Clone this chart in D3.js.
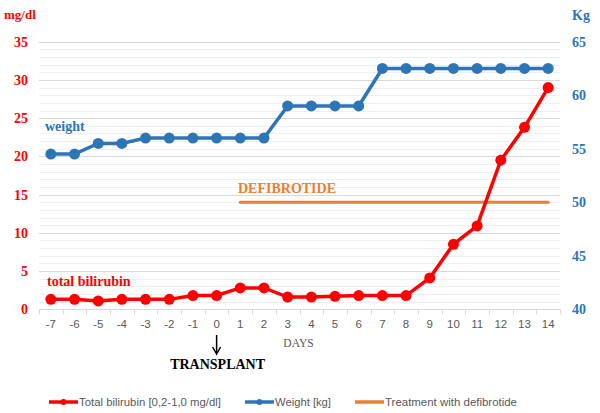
<!DOCTYPE html>
<html><head><meta charset="utf-8">
<script src="https://cdn.jsdelivr.net/npm/d3@7"></script>
<style>body{margin:0;background:#fff}svg{display:block}</style>
</head><body>
<svg id="c" width="600" height="413"></svg>
<script>
const days = [-7,-6,-5,-4,-3,-2,-1,0,1,2,3,4,5,6,7,8,9,10,11,12,13,14];
const bilirubin = [1.3,1.3,1.1,1.3,1.3,1.3,1.8,1.8,2.8,2.8,1.6,1.6,1.7,1.8,1.8,1.8,4.1,8.5,10.9,19.5,23.8,29.0];
const weight = [54.5,54.5,55.5,55.5,56,56,56,56,56,56,59,59,59,59,62.5,62.5,62.5,62.5,62.5,62.5,62.5,62.5];
const defibDays = [1,14];
const defibLevel = 14;
const leftTicks = [0,5,10,15,20,25,30,35];
const rightTicks = [40,45,50,55,60,65];
const legendLabels = ["Total bilirubin [0,2-1,0 mg/dl]","Weight [kg]","Treatment with defibrotide"];

const RED="#ff0000", BLUE="#2e75b6", ORANGE="#ed7d31";
const svg=d3.select("#c");
const L=39,R=560,T=41.7,B=309.3;
const x=d3.scaleBand().domain(days).range([L,R]);
const yL=d3.scaleLinear().domain([0,35]).range([B,T]);
const yR=d3.scaleLinear().domain([40,65]).range([B,T]);
const cx=d=>x(d)+x.bandwidth()/2;

// minor gridlines
svg.append("g").selectAll("line").data(d3.range(1,36).filter(v=>v%5!==0)).join("line")
 .attr("x1",L).attr("x2",R).attr("y1",d=>Math.round(yL(d))+0.5).attr("y2",d=>Math.round(yL(d))+0.5)
 .attr("stroke","#efefef").attr("stroke-width",1);
svg.append("g").selectAll("line").data(leftTicks.slice(1)).join("line")
 .attr("x1",L).attr("x2",R).attr("y1",d=>Math.round(yL(d))+0.5).attr("y2",d=>Math.round(yL(d))+0.5)
 .attr("stroke","#d9d9d9").attr("stroke-width",1);
// x axis
svg.append("line").attr("x1",L).attr("x2",R).attr("y1",Math.round(B)+0.5).attr("y2",Math.round(B)+0.5).attr("stroke","#d9d9d9");
svg.append("g").selectAll("line").data(days.concat([15])).join("line")
 .attr("x1",d=>Math.round(d===15?R:x(d))+0.5).attr("x2",d=>Math.round(d===15?R:x(d))+0.5)
 .attr("y1",B).attr("y2",B+5).attr("stroke","#d9d9d9");
svg.append("g").selectAll("text").data(days).join("text")
 .attr("x",d=>cx(d)).attr("y",328).attr("text-anchor","middle")
 .attr("font-family","Liberation Sans, Arial, sans-serif").attr("font-size",11.5).attr("fill","#595959")
 .text(d=>d);

// axis labels
svg.append("g").selectAll("text").data(leftTicks).join("text")
 .attr("x",28).attr("y",d=>yL(d)+5).attr("text-anchor","end")
 .attr("font-family","Liberation Serif, Times New Roman, serif").attr("font-weight","bold").attr("font-size",14).attr("fill",RED)
 .text(d=>d);
svg.append("g").selectAll("text").data(rightTicks).join("text")
 .attr("x",572).attr("y",d=>yR(d)+5).attr("text-anchor","start")
 .attr("font-family","Liberation Serif, Times New Roman, serif").attr("font-weight","bold").attr("font-size",14).attr("fill",BLUE)
 .text(d=>d);
svg.append("text").attr("x",4).attr("y",19).attr("font-family","Liberation Serif, serif").attr("font-weight","bold").attr("font-size",13).attr("fill",RED).text("mg/dl");
svg.append("text").attr("x",572).attr("y",20).attr("font-family","Liberation Serif, serif").attr("font-weight","bold").attr("font-size",14).attr("fill",BLUE).text("Kg");

// defibrotide line
svg.append("line").attr("x1",cx(defibDays[0])).attr("x2",cx(defibDays[1]))
 .attr("y1",yL(defibLevel)).attr("y2",yL(defibLevel)).attr("stroke",ORANGE).attr("stroke-width",3).attr("stroke-linecap","round");
svg.append("text").attr("x",238).attr("y",193).attr("font-family","Liberation Serif, serif").attr("font-weight","bold").attr("font-size",14).attr("fill",ORANGE).text("DEFIBROTIDE");

// weight
const wl=d3.line().x((d,i)=>cx(days[i])).y(d=>yR(d));
svg.append("path").datum(weight).attr("d",wl).attr("fill","none").attr("stroke",BLUE).attr("stroke-width",3.5);
svg.append("g").selectAll("circle").data(weight).join("circle").attr("cx",(d,i)=>cx(days[i])).attr("cy",d=>yR(d)).attr("r",5.5).attr("fill",BLUE);
svg.append("text").attr("x",45).attr("y",131).attr("font-family","Liberation Serif, serif").attr("font-weight","bold").attr("font-size",14).attr("fill",BLUE).text("weight");

// bilirubin
const bl=d3.line().x((d,i)=>cx(days[i])).y(d=>yL(d));
svg.append("path").datum(bilirubin).attr("d",bl).attr("fill","none").attr("stroke",RED).attr("stroke-width",3.5);
svg.append("g").selectAll("circle").data(bilirubin).join("circle").attr("cx",(d,i)=>cx(days[i])).attr("cy",d=>yL(d)).attr("r",5.5).attr("fill",RED);
svg.append("text").attr("x",47).attr("y",286).attr("font-family","Liberation Serif, serif").attr("font-weight","bold").attr("font-size",14).attr("fill",RED).text("total bilirubin");

// DAYS
svg.append("text").attr("x",298.5).attr("y",347).attr("text-anchor","middle").attr("font-family","Liberation Serif, serif").attr("font-size",11.5).attr("fill","#595959").text("DAYS");
// arrow + transplant
const ax=cx(0);
svg.append("line").attr("x1",ax).attr("x2",ax).attr("y1",335).attr("y2",353).attr("stroke","#000").attr("stroke-width",1.5);
svg.append("path").attr("d",`M${ax-4},${347}L${ax},${354}L${ax+4},${347}`).attr("fill","none").attr("stroke","#000").attr("stroke-width",1.5);
svg.append("text").attr("x",ax+1).attr("y",369).attr("text-anchor","middle").attr("font-family","Liberation Serif, serif").attr("font-weight","bold").attr("font-size",14).attr("fill","#000").text("TRANSPLANT");

// legend
const lg=[{c:RED,x:49,m:true,w:142},{c:BLUE,x:245,m:true,w:56},{c:ORANGE,x:355,m:false,w:132}];
lg.forEach((o,i)=>{
 svg.append("line").attr("x1",o.x).attr("x2",o.x+29).attr("y1",402).attr("y2",402).attr("stroke",o.c).attr("stroke-width",3.5);
 if(o.m) svg.append("circle").attr("cx",o.x+14.5).attr("cy",402).attr("r",3).attr("fill",o.c);
 svg.append("text").attr("x",o.x+30).attr("y",406).attr("font-family","Liberation Sans, Arial, sans-serif").attr("font-size",11.5)
  .attr("textLength",o.w).attr("lengthAdjust","spacingAndGlyphs").attr("fill","#595959").text(legendLabels[i]);
});
</script>
</body></html>
